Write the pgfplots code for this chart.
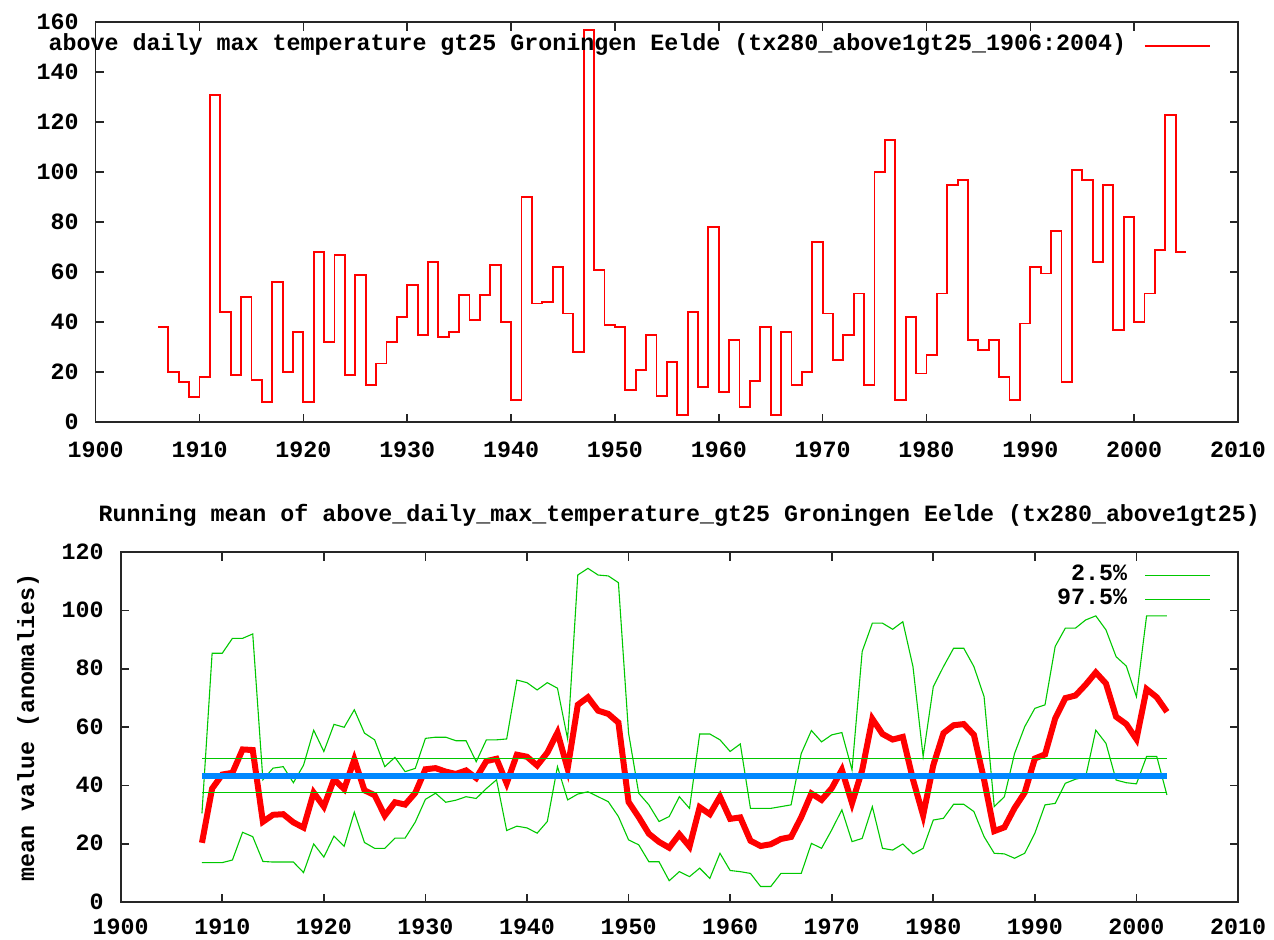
\documentclass[border=0pt]{standalone}
\usepackage{fontspec}
\setmainfont{Liberation Mono}
\usepackage{pgfplots}
\usepackage{pgfplotstable}
\pgfplotsset{compat=1.18}
\definecolor{gred}{RGB}{255,0,0}
\definecolor{ggreen}{RGB}{0,200,0}
\definecolor{gblue}{RGB}{0,136,255}
\newcommand\gf{\fontsize{11.66}{13}\selectfont\bfseries}

\pgfplotstableread{
year val
1906 38
1907 20
1908 16
1909 10
1910 18
1911 131
1912 44
1913 19
1914 50
1915 17
1916 8
1917 56
1918 20
1919 36
1920 8
1921 68
1922 32
1923 67
1924 19
1925 59
1926 15
1927 23.5
1928 32
1929 42
1930 55
1931 35
1932 64
1933 34
1934 36
1935 51
1936 41
1937 51
1938 63
1939 40
1940 9
1941 90
1942 47.5
1943 48
1944 62
1945 43.5
1946 28
1947 157
1948 61
1949 39
1950 38
1951 13
1952 21
1953 35
1954 10.5
1955 24
1956 3
1957 44
1958 14
1959 78
1960 12
1961 33
1962 6
1963 16.5
1964 38
1965 3
1966 36
1967 15
1968 20
1969 72
1970 43.5
1971 25
1972 35
1973 51.5
1974 15
1975 100
1976 113
1977 9
1978 42
1979 19.5
1980 27
1981 51.5
1982 95
1983 97
1984 33
1985 29
1986 33
1987 18
1988 9
1989 39.5
1990 62
1991 59.5
1992 76.5
1993 16
1994 101
1995 97
1996 64
1997 95
1998 37
1999 82
2000 40
2001 51.5
2002 69
2003 123
2004 68
2005 68
}\annual

\pgfplotstableread{
year mean lo hi
1908 20.4 13.6 30.5
1909 39.0 13.6 85.4
1910 43.8 13.6 85.4
1911 44.4 14.5 90.5
1912 52.4 24.0 90.5
1913 52.2 22.5 92.0
1914 27.6 14.0 42.0
1915 30.0 13.8 46.0
1916 30.2 13.8 46.5
1917 27.4 13.8 41.0
1918 25.6 10.2 47.0
1919 37.6 20.0 59.0
1920 32.8 15.5 51.7
1921 42.2 22.7 61.0
1922 38.8 19.2 60.0
1923 49.0 30.9 66.0
1924 38.4 20.5 58.0
1925 36.7 18.5 55.7
1926 29.7 18.5 46.5
1927 34.3 22.0 49.7
1928 33.5 22.0 44.8
1929 37.5 27.5 45.9
1930 45.6 35.3 56.2
1931 46.0 37.4 56.6
1932 44.8 34.3 56.6
1933 44.0 35.0 55.4
1934 45.2 36.2 55.4
1935 42.6 35.6 48.2
1936 48.4 39.0 55.7
1937 49.2 42.0 55.7
1938 40.8 24.6 56.0
1939 50.6 26.1 76.2
1940 49.9 25.5 75.3
1941 46.9 23.7 72.8
1942 51.3 27.7 75.3
1943 58.2 46.5 73.4
1944 45.8 35.1 56.0
1945 67.7 37.1 112.2
1946 70.3 37.9 114.5
1947 65.7 36.2 112.2
1948 64.6 34.5 111.9
1949 61.6 29.4 109.6
1950 34.4 21.4 58.0
1951 29.2 19.7 37.4
1952 23.5 13.9 33.4
1953 20.7 13.9 27.7
1954 18.7 7.4 29.4
1955 23.3 10.5 36.2
1956 19.1 8.8 32.2
1957 32.6 11.7 57.7
1958 30.2 8.2 57.7
1959 36.2 16.8 55.7
1960 28.6 10.9 51.7
1961 29.1 10.5 54.3
1962 21.1 9.9 32.2
1963 19.3 5.4 32.2
1964 19.9 5.4 32.2
1965 21.7 9.9 32.8
1966 22.4 9.9 33.4
1967 29.2 9.9 51.0
1968 37.3 20.2 58.9
1969 35.1 18.5 55.0
1970 39.1 24.8 57.4
1971 45.4 31.7 58.2
1972 34.0 20.8 45.4
1973 45.3 21.9 86.0
1974 62.9 32.8 95.7
1975 57.7 18.5 95.7
1976 55.8 17.9 93.6
1977 56.7 20.0 96.2
1978 42.1 16.6 80.8
1979 29.8 18.5 50.0
1980 47.0 28.2 73.9
1981 58.0 28.8 80.8
1982 60.7 33.6 87.1
1983 61.1 33.6 87.1
1984 57.4 31.1 80.8
1985 42.0 22.5 70.5
1986 24.4 16.8 32.8
1987 25.7 16.6 36.2
1988 32.3 15.1 51.0
1989 37.6 16.8 60.2
1990 49.3 23.7 66.5
1991 50.7 33.4 67.7
1992 63.0 33.9 87.7
1993 70.0 40.8 94.0
1994 70.9 42.2 94.0
1995 74.6 43.0 96.8
1996 78.8 59.0 98.2
1997 75.0 54.5 93.4
1998 63.6 41.9 84.2
1999 61.1 41.0 81.0
2000 55.9 40.6 70.5
2001 73.1 50.0 98.2
2002 70.3 50.0 98.2
2003 65.3 36.8 98.2
}\running

\pgfplotsset{gp/.style={
  scale only axis, anchor=south west,
  axis line style={black!85, line width=0.8pt},
  every tick/.style={black!85, line width=0.8pt},
  tick align=inside, major tick length=4.2pt,
  xmin=1900, xmax=2010, xtick distance=10,
  font=\gf, tick label style={font=\gf},
  /pgf/number format/assume math mode=true,
  /pgf/number format/1000 sep={},
  yticklabel style={anchor=base east, inner sep=0pt, xshift=-8.35pt, yshift=-3.4pt},
  legend cell align=right, legend plot pos=right,
  legend style={draw=none, fill=none, inner sep=0pt, outer sep=0pt,
    at={(1,1)}, anchor=north east, xshift=-13.65pt, yshift=-7.2pt,
    column sep=8.8pt, row sep=3pt, font=\gf,
    nodes={inner sep=0pt, text height=0.7em, text depth=0.2em}},
  legend image code/.code={\draw[#1] (0pt,0pt) -- (32.5pt,0pt);},
}}

\begin{document}
\begin{tikzpicture}[x=1pt,y=1pt]
\path[use as bounding box] (0,0) rectangle (637,470);

\begin{axis}[gp, at={(47.85pt,258.85pt)}, width=571.15pt, height=200pt,
  ymin=0, ymax=160, ytick distance=20,
  xticklabel style={anchor=base, inner sep=0pt, yshift=-17.5pt}]
\addplot[gred, line width=0.9pt, const plot mark left] table[x=year, y=val] {\annual};
\addlegendentry{above daily max temperature gt25 Groningen Eelde (tx280\_above1gt25\_1906:2004)}
\end{axis}

\begin{axis}[gp, at={(60.35pt,18.85pt)}, width=558.65pt, height=175pt,
  ymin=0, ymax=120, ytick distance=20,
  xticklabel style={anchor=base, inner sep=0pt, yshift=-15.9pt},
  title={Running mean of above\_daily\_max\_temperature\_gt25 Groningen Eelde (tx280\_above1gt25)},
  every axis title/.style={at={(0.5,1)}, anchor=base, inner sep=0pt, yshift=15.6pt, font=\gf},
  ylabel={mean value (anomalies)},
  every axis y label/.style={at={(-0.083,0.5)}, rotate=90, anchor=center, font=\gf}]
\addplot[gred, line width=3pt, forget plot] table[x=year, y=mean] {\running};
\addplot[ggreen, line width=0.55pt] table[x=year, y=lo] {\running};
\addlegendentry{2.5\%}
\addplot[ggreen, line width=0.55pt] table[x=year, y=hi] {\running};
\addlegendentry{97.5\%}
\addplot[ggreen, line width=0.55pt, forget plot] coordinates {(1908,49.4) (2003,49.4)};
\addplot[ggreen, line width=0.55pt, forget plot] coordinates {(1908,37.7) (2003,37.7)};
\addplot[gblue, line width=2.8pt, forget plot] coordinates {(1908,43.3) (2003,43.3)};
\end{axis}
\end{tikzpicture}
\end{document}
